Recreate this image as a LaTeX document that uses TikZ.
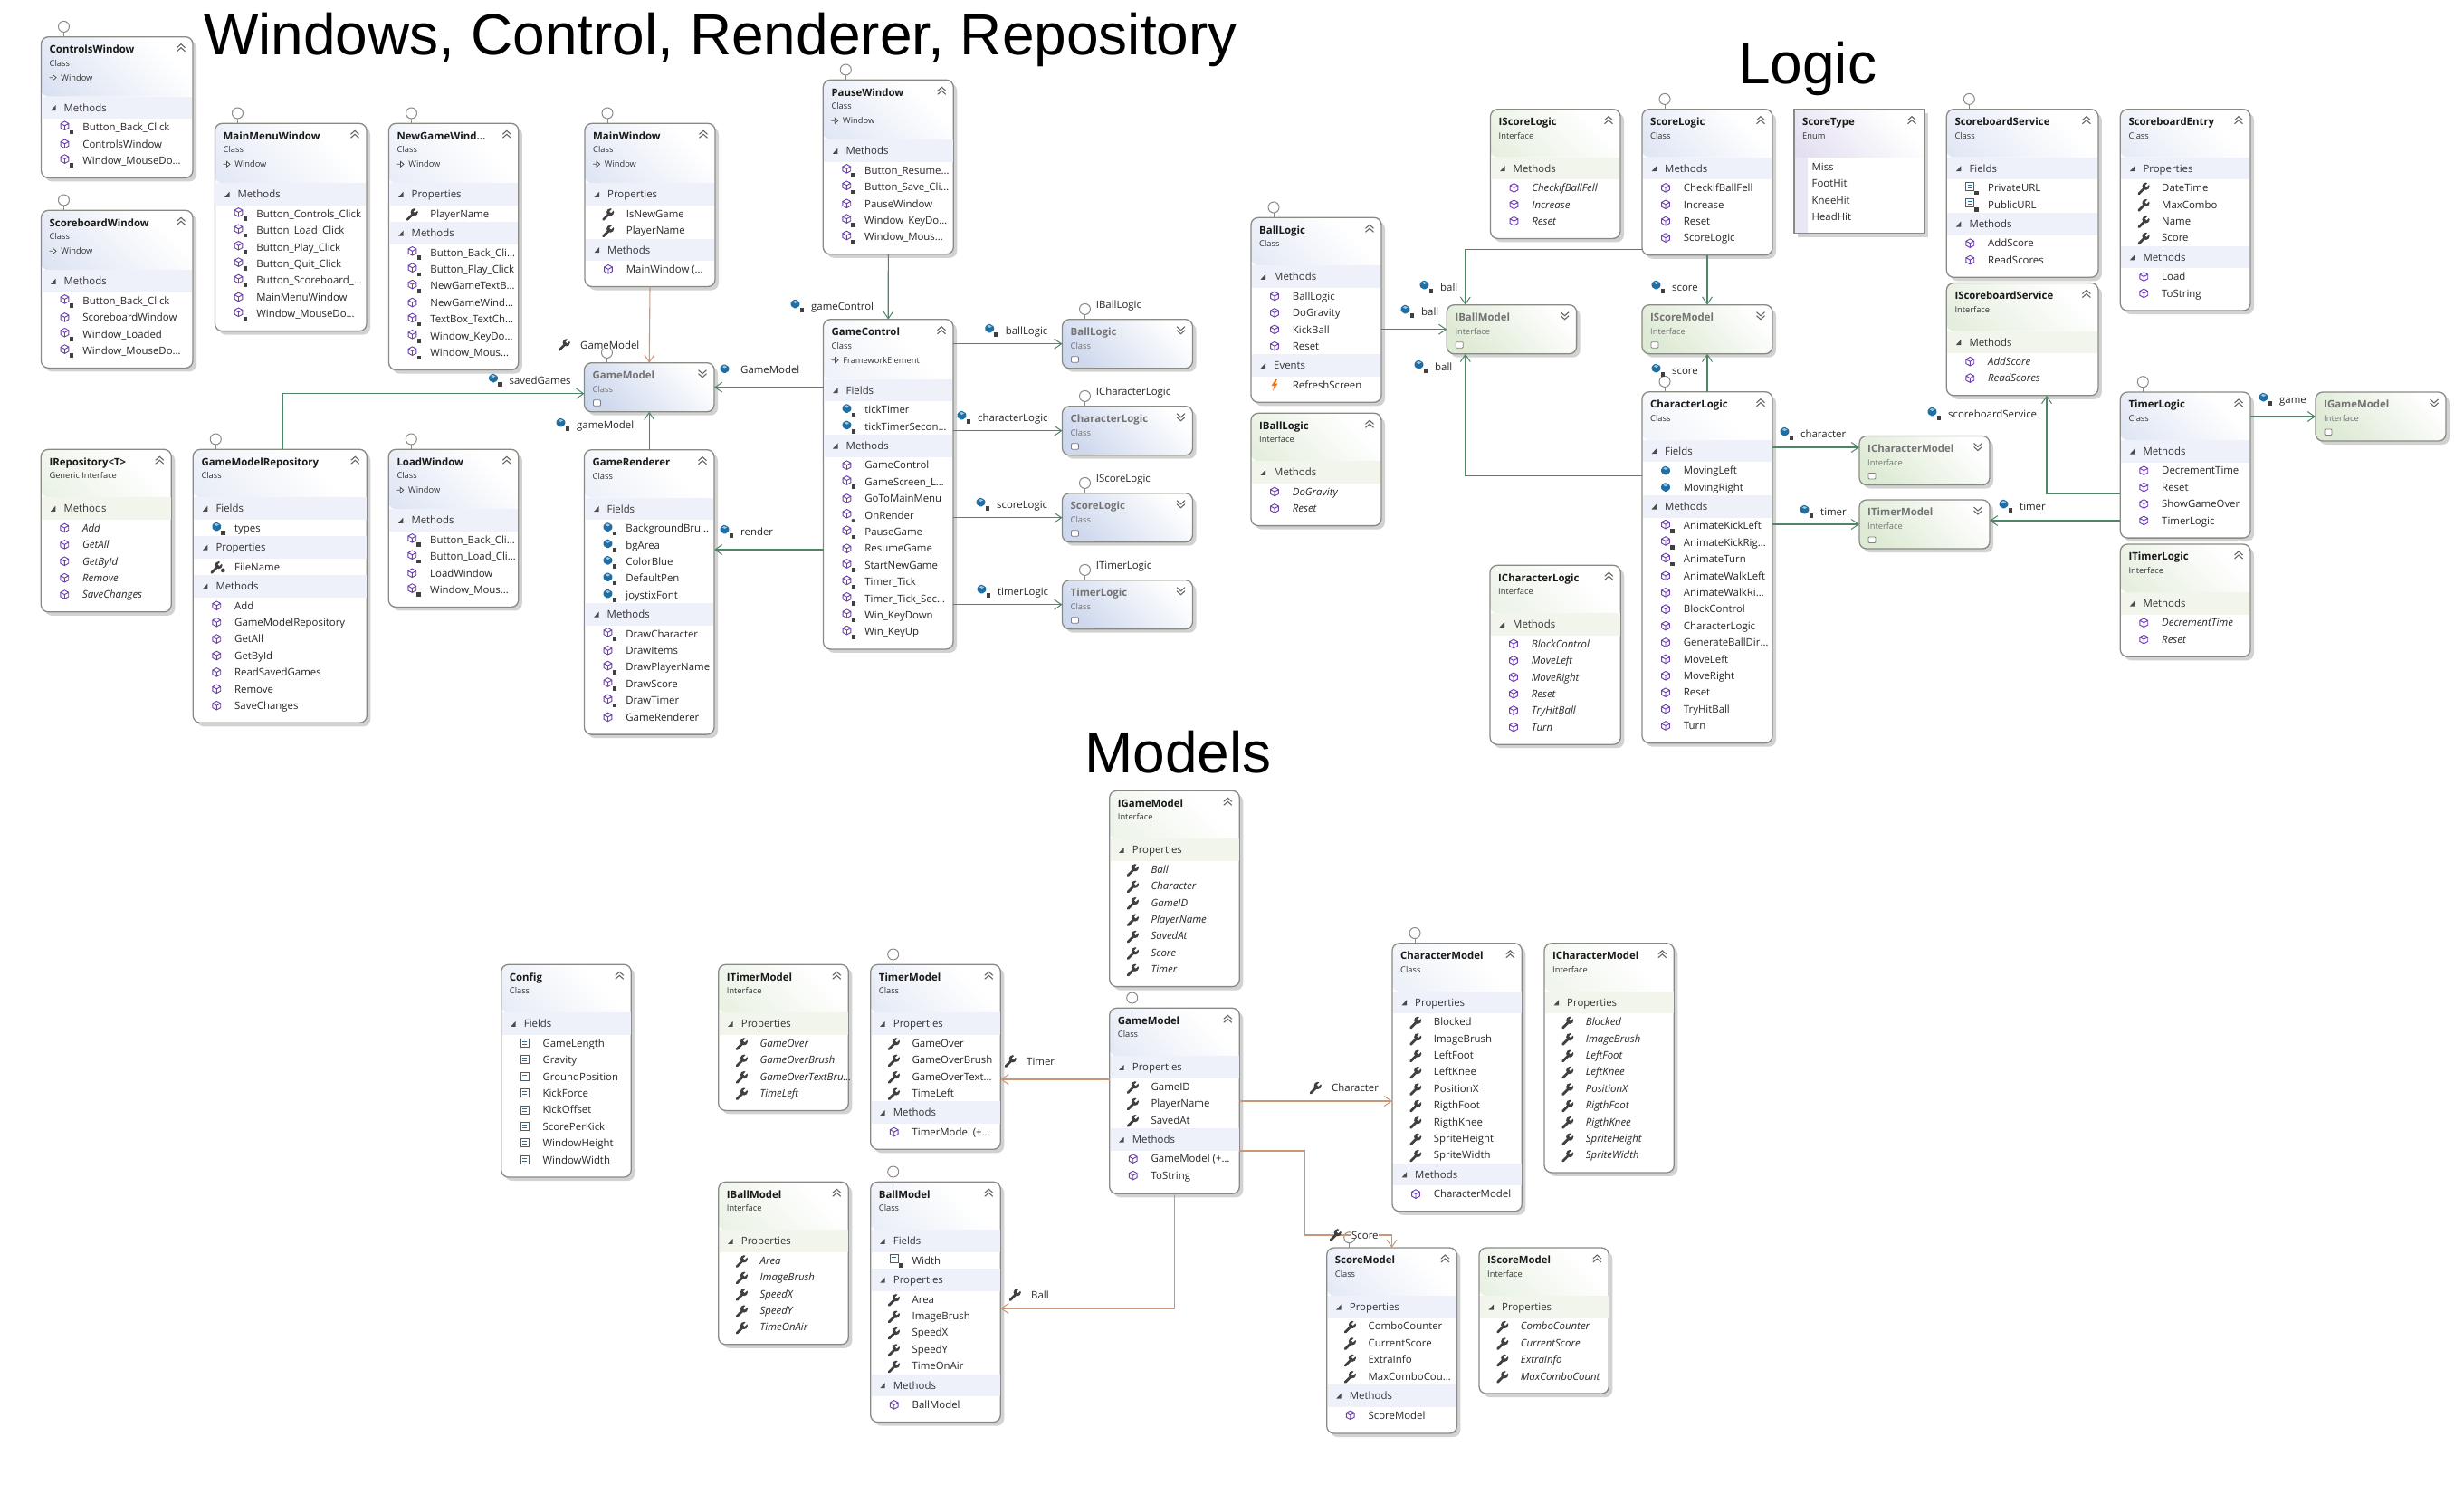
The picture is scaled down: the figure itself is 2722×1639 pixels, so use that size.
\documentclass[tikz,border=0pt]{standalone}
\usepackage{fontspec}
\setmainfont{Open Sans}
\newfontfamily\titlefont{Liberation Sans}
\usetikzlibrary{arrows.meta}

\definecolor{clshead}{HTML}{CFD9EE}
\definecolor{clsband}{HTML}{EEF1FA}
\definecolor{ifchead}{HTML}{DDEAD4}
\definecolor{ifcband}{HTML}{F1F5EC}
\definecolor{enmhead}{HTML}{D9D3EC}
\definecolor{edgegray}{HTML}{8A8A84}
\definecolor{shadowgray}{HTML}{D2D2D2}
\definecolor{assocgreen}{HTML}{4F8466}
\definecolor{assocorange}{HTML}{C9967A}
\definecolor{mthpurple}{HTML}{6B3DB0}
\definecolor{fldblue}{HTML}{1F6FA5}
\definecolor{wrenchgray}{HTML}{404040}

\tikzset{
  >={Straight Barb[length=8pt,width=11pt,line width=1pt]},
  boxnode/.style={draw=edgegray,fill=white,line width=1.3pt,rounded corners=8pt,anchor=north west,inner sep=0pt,outer sep=0pt},
  titletext/.style={anchor=base west,inner sep=0pt,font=\fontsize{11.4}{14}\selectfont\bfseries,text=black!90},
  kindtext/.style={anchor=base west,inner sep=0pt,font=\fontsize{9.3}{12}\selectfont,text=black!80},
  sectiontext/.style={anchor=base west,inner sep=0pt,font=\fontsize{11.4}{14}\selectfont,text=black!80},
  itemtext/.style={anchor=base west,inner sep=0pt,font=\fontsize{11.4}{14}\selectfont,text=black!85},
  headline/.style={anchor=base west,inner sep=0pt,font=\titlefont\fontsize{64}{70}\selectfont},
  lolli/.style={circle,draw=edgegray,fill=white,line width=1pt,minimum size=12pt,inner sep=0pt,outer sep=0pt},
  ifacetext/.style={anchor=west,inner sep=0pt,font=\fontsize{11.4}{14}\selectfont,text=black!85},
  assoc/.style={draw=assocgreen,line width=1.1pt,->},
  propassoc/.style={draw=assocorange,line width=1.1pt,->},
  chev/.style={draw=black!60,line width=1.1pt}
}

% member icons
\newcommand{\cube}{\draw[mthpurple,line width=.9pt] (0,-4.8)--(4.4,-2.4)--(4.4,2.4)--(0,4.8)--(-4.4,2.4)--(-4.4,-2.4)--cycle (-4.4,-2.4)--(0,0)--(4.4,-2.4) (0,0)--(0,4.8);}
\newcommand{\padlock}{\fill[black!75] (5,3.2) rectangle (9.5,7.8);}
\newcommand{\wrench}{\draw[wrenchgray,line width=2.8pt,line cap=round] (-5.5,6.5)--(0.5,0.5);
  \fill[wrenchgray] (2.2,-1.7) circle (4.1pt);
  \draw[white,line width=2.4pt] (2.2,-1.7)--(7,-6.5);}
\newcommand{\bluecube}{\fill[fldblue,rounded corners=1pt] (-4.8,-2)--(-.5,-5)--(4.8,-2)--(4.8,2.5)--(0,5.5)--(-4.8,2.5)--cycle;
  \fill[white!60!fldblue] (-2.6,-2)--(-.5,-3.5)--(2.6,-2)--(0,-.4)--cycle;}
\newcommand{\constbox}{\draw[black!65,line width=.9pt] (-4.5,-4.5) rectangle (4.5,4.5);
  \draw[fldblue,line width=1pt] (-2.5,-1.5)--(2.5,-1.5) (-2.5,1.5)--(2.5,1.5);}
\newcommand{\icmth}{\cube}
\newcommand{\icmthl}{\begin{scope}[shift={(0,-1.6)}]\cube\end{scope}\padlock}
\newcommand{\icmths}{\begin{scope}[shift={(0,-1.6)}]\cube\end{scope}\fill[black!70] (7,6) circle (2pt);}
\newcommand{\icprp}{\wrench}
\newcommand{\icprps}{\wrench\fill[black!75] (7,4) circle (2.4pt);}
\newcommand{\icfld}{\bluecube}
\newcommand{\icfldl}{\begin{scope}[shift={(0,-1.6)}]\bluecube\end{scope}\padlock}
\newcommand{\iccst}{\constbox}
\newcommand{\iccstl}{\begin{scope}[shift={(0,-1.6)}]\constbox\end{scope}\padlock}
\newcommand{\icevt}{\fill[orange!85!red] (1,-6)--(-3.5,1)--(-.5,1)--(-2,6.5)--(3.5,-1.5)--(.5,-1.5)--(3,-6)--cycle;}

\newcounter{itemno}

% id, scheme, x, y, w, h, title, kind, base class
\newcommand{\classbox}[9]{%
  \def\basetext{#9}%
  \ifx\basetext\empty\def\hdh{53}\else\def\hdh{66}\fi
  \fill[shadowgray,rounded corners=8pt] (#3+4,#4+4) rectangle (#3+#5+4,#4+#6+4);
  \node[boxnode,minimum width=#5pt,minimum height=#6pt,
    path picture={\shade[bottom color=#2head,top color=white,shading angle=-45]
      (path picture bounding box.north west) rectangle ([yshift=-\hdh pt]path picture bounding box.north east);}]
    (#1) at (#3,#4) {};
  \node[titletext] (#1-title) at (#3+9,#4+17.7) {#7};
  \node[kindtext] (#1-kind) at (#3+9,#4+32.6) {#8};
  \ifx\basetext\empty\else
    \draw[black!70,line width=.8pt,fill=white] (#3+9,#4+45)--(#3+13,#4+45) (#3+13,#4+42)--(#3+16.5,#4+45)--(#3+13,#4+48)--cycle;
    \node[kindtext] (#1-base) at (#3+21.7,#4+48.6) {#9};
  \fi
  \draw[chev] (#3+#5-17.5,#4+12)--(#3+#5-13,#4+8)--(#3+#5-8.5,#4+12) (#3+#5-17.5,#4+16)--(#3+#5-13,#4+12)--(#3+#5-8.5,#4+16);
  \xdef\curId{#1}\xdef\curX{#3}\xdef\curW{#5}\xdef\curBand{#2band}%
  \pgfmathsetmacro{\nextY}{#4+\hdh}\xdef\curY{\nextY}%
  \setcounter{itemno}{0}%
}

% [italic], section name, icon/text list
\newcommand{\members}[3][]{%
  \fill[fill=\curBand] (\curX+.8,\curY) rectangle (\curX+\curW-.8,\curY+24.5);
  \fill[black!70] (\curX+16,\curY+9.5)--(\curX+16,\curY+15.5)--(\curX+10.5,\curY+15.5)--cycle;
  \stepcounter{itemno}%
  \node[sectiontext] (\curId-\arabic{itemno}) at (\curX+25,\curY+16.5) {#2};
  \pgfmathsetmacro{\nextY}{\curY+33.7}\xdef\itY{\nextY}%
  \foreach \ic/\tx in {#3}{
    \begin{scope}[shift={(\curX+26,\itY)}]\csname ic\ic\endcsname\end{scope}
    \stepcounter{itemno}%
    \node[itemtext] (\curId-\arabic{itemno}) at (\curX+45.7,\itY+4.2) {#1\tx};
    \pgfmathsetmacro{\nextY}{\itY+18.4}\xdef\itY{\nextY}%
  }
  \pgfmathsetmacro{\nextY}{\itY-9.2}\xdef\curY{\nextY}%
}

% id, scheme, x, y, w, title, kind
\newcommand{\foldedbox}[7]{%
  \fill[shadowgray,rounded corners=8pt] (#3+4,#4+4) rectangle (#3+#5+4,#4+58);
  \node[boxnode,minimum width=#5pt,minimum height=54pt,
    path picture={\shade[bottom color=#2head,top color=white,shading angle=-45]
      (path picture bounding box.north west) rectangle (path picture bounding box.south east);}]
    (#1) at (#3,#4) {};
  \node[titletext,text=black!55] (#1-title) at (#3+9,#4+17.7) {#6};
  \node[kindtext,text=black!55] (#1-kind) at (#3+9,#4+32.6) {#7};
  \draw[black!50,fill=white,rounded corners=1pt,line width=.8pt] (#3+10,#4+41)rectangle(#3+18,#4+47.5);
  \draw[chev] (#3+#5-17.5,#4+8)--(#3+#5-13,#4+12)--(#3+#5-8.5,#4+8) (#3+#5-17.5,#4+12)--(#3+#5-13,#4+16)--(#3+#5-8.5,#4+12);
}

% lollipop above a box
\newcommand{\lollipop}[1]{%
  \node[lolli] (#1-lolli) at ([xshift=25pt,yshift=11.3pt]#1.north west) {};
  \draw[edgegray,line width=1pt] (#1-lolli) -- (#1-lolli |- #1.north);
}

% [text options], id, icon, text x, text y, text
\newcommand{\reflabel}[6][]{%
  \begin{scope}[shift={(#4-17.5,#5-1)}]\csname ic#3\endcsname\end{scope}
  \node[itemtext,#1] (#2) at (#4,#5+4.2) {#6};
}

\begin{document}
\begin{tikzpicture}[x=1pt,y=-1pt]
\useasboundingbox (0,0) rectangle (2722,1639);

\node[headline] (headwin) at (225,60.7) {Windows, Control, Renderer, Repository};
\node[headline] (headlogic) at (1920,92) {Logic};
\node[headline] (headmodel) at (1198,853) {Models};

% windows
\classbox{ctrlwin}{cls}{45.5}{40.7}{167.5}{155.7}{ControlsWindow}{Class}{Window}
\members{Methods}{mthl/Button\_Back\_Click,mth/ControlsWindow,mthl/Window\_MouseDo…}
\classbox{scorewin}{cls}{45.5}{232.3}{167.5}{174.1}{ScoreboardWindow}{Class}{Window}
\members{Methods}{mthl/Button\_Back\_Click,mth/ScoreboardWindow,mthl/Window\_Loaded,mthl/Window\_MouseDo…}
\classbox{mainmenu}{cls}{237.5}{136.3}{167.5}{229.3}{MainMenuWindow}{Class}{Window}
\members{Methods}{mthl/Button\_Controls\_Click,mthl/Button\_Load\_Click,mthl/Button\_Play\_Click,mthl/Button\_Quit\_Click,
  mthl/Button\_Scoreboard\_…,mth/MainMenuWindow,mthl/Window\_MouseDo…}
\classbox{newgame}{cls}{429.5}{136.3}{143.3}{272.2}{NewGameWind…}{Class}{Window}
\members{Properties}{prp/PlayerName}
\members{Methods}{mthl/Button\_Back\_Cli…,mthl/Button\_Play\_Click,mthl/NewGameTextB…,mth/NewGameWind…,
  mthl/TextBox\_TextCh…,mthl/Window\_KeyDo…,mthl/Window\_Mous…}
\classbox{mainwin}{cls}{646}{136.3}{144}{180.2}{MainWindow}{Class}{Window}
\members{Properties}{prp/IsNewGame,prp/PlayerName}
\members{Methods}{mth/MainWindow (…}
\classbox{pausewin}{cls}{909.3}{88.3}{144}{192.5}{PauseWindow}{Class}{Window}
\members{Methods}{mthl/Button\_Resume…,mthl/Button\_Save\_Cli…,mth/PauseWindow,mthl/Window\_KeyDo…,mthl/Window\_Mous…}
\classbox{loadwin}{cls}{429.3}{496.3}{143.5}{174.1}{LoadWindow}{Class}{Window}
\members{Methods}{mthl/Button\_Back\_Cli…,mthl/Button\_Load\_Cli…,mth/LoadWindow,mthl/Window\_Mous…}

% control, renderer, repository
\classbox{gamectl}{cls}{909.5}{352.7}{143.5}{364.2}{GameControl}{Class}{FrameworkElement}
\members{Fields}{fldl/tickTimer,fldl/tickTimerSecon…}
\members{Methods}{mth/GameControl,mthl/GameScreen\_L…,mth/GoToMainMenu,mths/OnRender,mthl/PauseGame,mth/ResumeGame,
  mthl/StartNewGame,mthl/Timer\_Tick,mthl/Timer\_Tick\_Sec…,mthl/Win\_KeyDown,mthl/Win\_KeyUp}
\classbox{renderer}{cls}{645.5}{496.7}{143.5}{314.4}{GameRenderer}{Class}{}
\members{Fields}{fldl/BackgroundBru…,fldl/bgArea,fldl/ColorBlue,fldl/DefaultPen,fldl/joystixFont}
\members{Methods}{mthl/DrawCharacter,mth/DrawItems,mthl/DrawPlayerName,mthl/DrawScore,mthl/DrawTimer,mth/GameRenderer}
\classbox{irepo}{ifc}{45.3}{496.3}{144}{179.5}{IRepository<T>}{Generic Interface}{}
\members[\itshape]{Methods}{mth/Add,mth/GetAll,mth/GetById,mth/Remove,mth/SaveChanges}
\classbox{gmrepo}{cls}{213.3}{496.3}{192}{302}{GameModelRepository}{Class}{}
\members{Fields}{fldl/types}
\members{Properties}{prps/FileName}
\members{Methods}{mth/Add,mth/GameModelRepository,mth/GetAll,mth/GetById,mth/ReadSavedGames,mth/Remove,mth/SaveChanges}
\foldedbox{gmodelc}{cls}{645.5}{400.7}{143.5}{GameModel}{Class}
\foldedbox{ballc}{cls}{1173.5}{352.7}{144}{BallLogic}{Class}
\foldedbox{charc}{cls}{1173.5}{448.7}{144}{CharacterLogic}{Class}
\foldedbox{scorec}{cls}{1173.5}{544.7}{144}{ScoreLogic}{Class}
\foldedbox{timerc}{cls}{1173.5}{640.7}{144}{TimerLogic}{Class}

% logic
\classbox{balllogic}{cls}{1382}{240.3}{144}{204}{BallLogic}{Class}{}
\members{Methods}{mth/BallLogic,mth/DoGravity,mth/KickBall,mth/Reset}
\members{Events}{evt/RefreshScreen}
\classbox{iballlogic}{ifc}{1382}{456.3}{144}{124.3}{IBallLogic}{Interface}{}
\members[\itshape]{Methods}{mth/DoGravity,mth/Reset}
\classbox{iscorelogic}{ifc}{1646.5}{120.7}{143.5}{142.7}{IScoreLogic}{Interface}{}
\members[\itshape]{Methods}{mth/CheckIfBallFell,mth/Increase,mth/Reset}
\classbox{scorelogic}{cls}{1814}{120.7}{144}{161.1}{ScoreLogic}{Class}{}
\members{Methods}{mth/CheckIfBallFell,mth/Increase,mth/Reset,mth/ScoreLogic}
\classbox{icharlogic}{ifc}{1646}{624.3}{144.3}{197.9}{ICharacterLogic}{Interface}{}
\members[\itshape]{Methods}{mth/BlockControl,mth/MoveLeft,mth/MoveRight,mth/Reset,mth/TryHitBall,mth/Turn}
\classbox{charlogic}{cls}{1814}{432.7}{144}{388}{CharacterLogic}{Class}{}
\members{Fields}{fld/MovingLeft,fld/MovingRight}
\members{Methods}{mthl/AnimateKickLeft,mthl/AnimateKickRig…,mthl/AnimateTurn,mth/AnimateWalkLeft,mth/AnimateWalkRi…,
  mth/BlockControl,mth/CharacterLogic,mth/GenerateBallDir…,mth/MoveLeft,mth/MoveRight,mth/Reset,mth/TryHitBall,mth/Turn}
\classbox{sbservice}{cls}{2150.3}{120.7}{167.6}{185.6}{ScoreboardService}{Class}{}
\members{Fields}{cstl/PrivateURL,cstl/PublicURL}
\members{Methods}{mth/AddScore,mth/ReadScores}
\classbox{isbservice}{ifc}{2150.3}{312.5}{167.6}{124.3}{IScoreboardService}{Interface}{}
\members[\itshape]{Methods}{mth/AddScore,mth/ReadScores}
\classbox{sbentry}{cls}{2342.3}{120.7}{143.7}{222.4}{ScoreboardEntry}{Class}{}
\members{Properties}{prp/DateTime,prp/MaxCombo,prp/Name,prp/Score}
\members{Methods}{mth/Load,mth/ToString}
\classbox{timerlogic}{cls}{2342.3}{433}{143.7}{161.1}{TimerLogic}{Class}{}
\members{Methods}{mth/DecrementTime,mth/Reset,mth/ShowGameOver,mth/TimerLogic}
\classbox{itimerlogic}{ifc}{2342.3}{601}{143.7}{124.3}{ITimerLogic}{Interface}{}
\members[\itshape]{Methods}{mth/DecrementTime,mth/Reset}
\foldedbox{ibmc}{ifc}{1598.3}{336.7}{143.3}{IBallModel}{Interface}
\foldedbox{ismc}{ifc}{1814}{336.7}{144}{IScoreModel}{Interface}
\foldedbox{icmc}{ifc}{2054}{481.5}{144}{ICharacterModel}{Interface}
\foldedbox{itmc}{ifc}{2054}{552}{144}{ITimerModel}{Interface}
\foldedbox{igmc}{ifc}{2558}{433}{144}{IGameModel}{Interface}

% the enum has square corners
\fill[shadowgray] (1986,124.7) rectangle (2130,261.7);
\node[boxnode,rounded corners=0pt,minimum width=144pt,minimum height=137pt,fill=enmhead!55,
  path picture={\shade[bottom color=enmhead,top color=white,shading angle=-45]
    (path picture bounding box.north west) rectangle ([yshift=-53pt]path picture bounding box.north east);}]
  (scoretype) at (1982,120.7) {};
\fill[white] (1997,173.7) rectangle (2125.4,257);
\node[titletext] (scoretype-title) at (1991,138.4) {ScoreType};
\node[kindtext] (scoretype-kind) at (1991,153.3) {Enum};
\draw[chev] (2107.5,132.7)--(2112,128.7)--(2116.5,132.7) (2107.5,136.7)--(2112,132.7)--(2116.5,136.7);
\node[itemtext] (scoretype-1) at (2001.4,188.2) {Miss};
\node[itemtext] (scoretype-2) at (2001.4,206.4) {FootHit};
\node[itemtext] (scoretype-3) at (2001.4,225) {KneeHit};
\node[itemtext] (scoretype-4) at (2001.4,243.2) {HeadHit};

% models
\classbox{config}{cls}{553.7}{1065.3}{143.6}{234.7}{Config}{Class}{}
\members{Fields}{cst/GameLength,cst/Gravity,cst/GroundPosition,cst/KickForce,cst/KickOffset,cst/ScorePerKick,cst/WindowHeight,cst/WindowWidth}
\classbox{itimerm}{ifc}{793.7}{1065.3}{143.6}{161.1}{ITimerModel}{Interface}{}
\members[\itshape]{Properties}{prp/GameOver,prp/GameOverBrush,prp/GameOverTextBru…,prp/TimeLeft}
\classbox{timerm}{cls}{961.7}{1065.3}{143.6}{204}{TimerModel}{Class}{}
\members{Properties}{prp/GameOver,prp/GameOverBrush,prp/GameOverText…,prp/TimeLeft}
\members{Methods}{mth/TimerModel (+…}
\classbox{iballm}{ifc}{793.7}{1305.3}{143.6}{179.5}{IBallModel}{Interface}{}
\members[\itshape]{Properties}{prp/Area,prp/ImageBrush,prp/SpeedX,prp/SpeedY,prp/TimeOnAir}
\classbox{ballm}{cls}{961.7}{1305.3}{143.6}{265.3}{BallModel}{Class}{}
\members{Fields}{cstl/Width}
\members{Properties}{prp/Area,prp/ImageBrush,prp/SpeedX,prp/SpeedY,prp/TimeOnAir}
\members{Methods}{mth/BallModel}
\classbox{igamem}{ifc}{1225.7}{873.3}{143.6}{216.3}{IGameModel}{Interface}{}
\members[\itshape]{Properties}{prp/Ball,prp/Character,prp/GameID,prp/PlayerName,prp/SavedAt,prp/Score,prp/Timer}
\classbox{gamem}{cls}{1225.7}{1113.3}{143.6}{205}{GameModel}{Class}{}
\members{Properties}{prp/GameID,prp/PlayerName,prp/SavedAt}
\members{Methods}{mth/GameModel (+…,mth/ToString}
\classbox{charm}{cls}{1538}{1041.8}{143.3}{296}{CharacterModel}{Class}{}
\members{Properties}{prp/Blocked,prp/ImageBrush,prp/LeftFoot,prp/LeftKnee,prp/PositionX,prp/RigthFoot,prp/RigthKnee,prp/SpriteHeight,prp/SpriteWidth}
\members{Methods}{mth/CharacterModel}
\classbox{icharm}{ifc}{1706}{1041.8}{143.3}{253.1}{ICharacterModel}{Interface}{}
\members[\itshape]{Properties}{prp/Blocked,prp/ImageBrush,prp/LeftFoot,prp/LeftKnee,prp/PositionX,prp/RigthFoot,prp/RigthKnee,prp/SpriteHeight,prp/SpriteWidth}
\classbox{scorem}{cls}{1465.7}{1378}{143.7}{205}{ScoreModel}{Class}{}
\members{Properties}{prp/ComboCounter,prp/CurrentScore,prp/ExtraInfo,prp/MaxComboCou…}
\members{Methods}{mth/ScoreModel}
\classbox{iscorem}{ifc}{1634}{1378}{143.3}{161.1}{IScoreModel}{Interface}{}
\members[\itshape]{Properties}{prp/ComboCounter,prp/CurrentScore,prp/ExtraInfo,prp/MaxComboCount}

\foreach \b in {ctrlwin,scorewin,mainmenu,newgame,mainwin,pausewin,loadwin,gmrepo,gmodelc,ballc,charc,scorec,timerc,
  balllogic,scorelogic,charlogic,sbservice,timerlogic,timerm,ballm,gamem,charm,scorem}
  {\lollipop{\b}}

% labels of the folded lollipops
\node[ifacetext] (lblibl) at (1210.7,338) {IBallLogic};
\node[ifacetext] (lblicl) at (1210.7,434) {ICharacterLogic};
\node[ifacetext] (lblisl) at (1210.7,530) {IScoreLogic};
\node[ifacetext] (lblitl) at (1210.7,626) {ITimerLogic};

% bends of the connectors
\coordinate (bendsaved) at (312.3,434.7);
\coordinate (bendrender) at (720,607);
\coordinate (bendscoreball) at (1618.8,275.7);
\coordinate (bendcharball) at (1618.8,525.3);
\coordinate (bendchar) at (2000,494);
\coordinate (bendtimer) at (2000,579);
\coordinate (bendtimerm) at (2300,575);
\coordinate (bendservice) at (2261,545);
\coordinate (bendmtimer) at (1150,1192);
\coordinate (bendmchar) at (1450,1216);
\coordinate (bendscorea) at (1441.6,1271);
\coordinate (bendscoreb) at (1441.6,1364);
\coordinate (bendball) at (1200,1445);

\draw[assoc] (gmrepo.north -| bendsaved) -- (bendsaved) -- (gmodelc.west |- bendsaved);
\draw[propassoc] (mainwin.south) -- (gmodelc.north);
\draw[assoc] (renderer.north) -- (gmodelc.south);
\draw[assoc] (gamectl.west |- gmodelc.east) -- (gmodelc.east);
\draw[assoc] (gamectl.west |- bendrender) -- (renderer.east |- bendrender);
\draw[assoc] (pausewin.south) -- (gamectl.north);
\draw[assoc] (gamectl.east |- ballc.west) -- (ballc.west);
\draw[assoc] (gamectl.east |- charc.west) -- (charc.west);
\draw[assoc] (gamectl.east |- scorec.west) -- (scorec.west);
\draw[assoc] (gamectl.east |- timerc.west) -- (timerc.west);

\draw[assoc] (balllogic.east |- ibmc.west) -- (ibmc.west);
\draw[assoc] (scorelogic.west |- bendscoreball) -- (bendscoreball) -- (bendscoreball |- ibmc.north);
\draw[assoc] (scorelogic.south) -- (ismc.north);
\draw[assoc] (charlogic.north) -- (ismc.south);
\draw[assoc] (charlogic.west |- bendcharball) -- (bendcharball) -- (bendcharball |- ibmc.south);
\draw[assoc] (charlogic.east |- bendchar) -- (icmc.west |- bendchar);
\draw[assoc] (charlogic.east |- bendtimer) -- (itmc.west |- bendtimer);
\draw[assoc] (timerlogic.east |- igmc.west) -- (igmc.west);
\draw[assoc] (timerlogic.west |- bendtimerm) -- (itmc.east |- bendtimerm);
\draw[assoc] (timerlogic.west |- bendservice) -- (bendservice) -- (bendservice |- isbservice.south);

\draw[propassoc] (gamem.west |- bendmtimer) -- (timerm.east |- bendmtimer);
\draw[propassoc] (gamem.east |- bendmchar) -- (charm.west |- bendmchar);
\draw[propassoc] (gamem.east |- bendscorea) -- (bendscorea) -- (bendscoreb) -- (scorem.north |- bendscoreb) -- (scorem.north);
\draw[propassoc] (gamem.south) -- (gamem.south |- bendball) -- (ballm.east |- bendball);

% connector labels
\reflabel{lblsaved}{fldl}{562.5}{420}{savedGames}
\reflabel[fill=white]{lblgmprop}{prp}{641}{381}{GameModel}
\reflabel{lblgmfield}{fld}{818}{408}{GameModel}
\reflabel{lblgmodel}{fldl}{637}{469}{gameModel}
\reflabel{lblrender}{fldl}{818}{587}{render}
\reflabel{lblgctl}{fldl}{896}{338}{gameControl}
\reflabel{lblball}{fldl}{1110.7}{365}{ballLogic}
\reflabel{lblchar}{fldl}{1080}{461}{characterLogic}
\reflabel{lblscore}{fldl}{1101}{557}{scoreLogic}
\reflabel{lbltimer}{fldl}{1102}{653}{timerLogic}
\reflabel{lblballa}{fldl}{1591}{317}{ball}
\reflabel{lblballb}{fldl}{1570}{344}{ball}
\reflabel{lblballc}{fldl}{1585}{405}{ball}
\reflabel{lblscorea}{fldl}{1847}{317}{score}
\reflabel{lblscoreb}{fldl}{1847}{409}{score}
\reflabel{lblcharacter}{fldl}{1989}{479}{character}
\reflabel{lbltm}{fldl}{2011}{565}{timer}
\reflabel{lblservice}{fldl}{2152}{457}{scoreboardService}
\reflabel{lbltm2}{fldl}{2231}{559}{timer}
\reflabel{lblgame}{fldl}{2518}{441}{game}
\reflabel{lblmtimer}{prp}{1134}{1172}{Timer}
\reflabel{lblmchar}{prp}{1471}{1201.6}{Character}
\reflabel[fill=white]{lblmscore}{prp}{1493}{1364}{Score}
\reflabel{lblmball}{prp}{1139}{1430}{Ball}
\end{tikzpicture}
\end{document}
